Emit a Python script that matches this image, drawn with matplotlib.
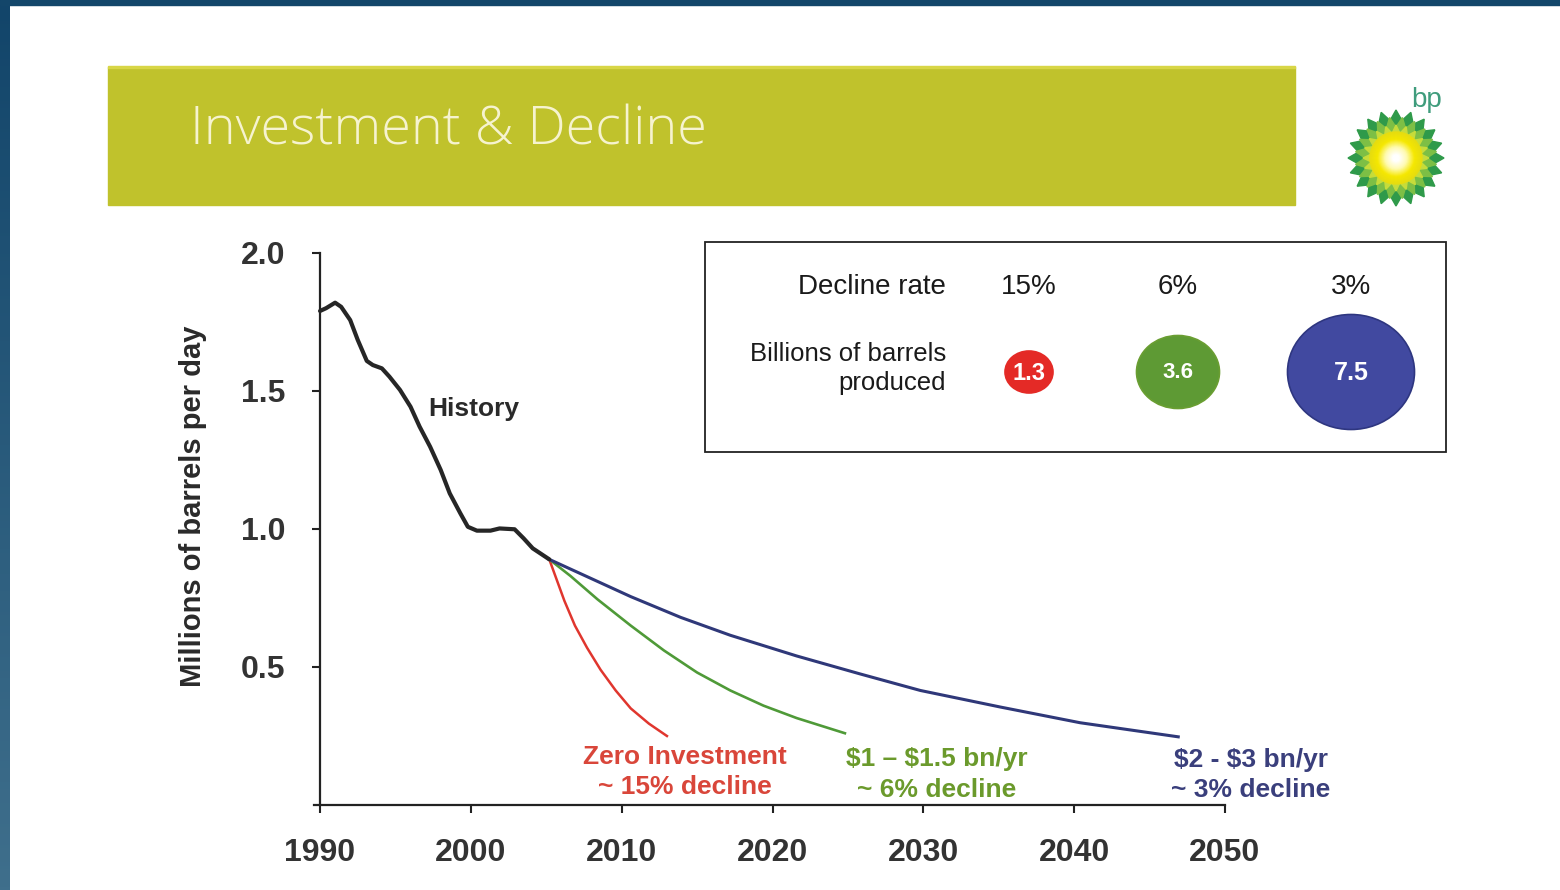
import numpy as np
import matplotlib
matplotlib.use('Agg')
import matplotlib.pyplot as plt
from matplotlib.patches import Rectangle, Ellipse, Polygon, Circle
import matplotlib.colors as mcolors

plt.rcParams['font.family'] = ['Liberation Sans', 'DejaVu Sans']

# Datos
hist_years = [1990, 1990.4, 1991.0, 1991.4, 1992.0, 1992.5, 1993.1, 1993.5, 1994.1, 1994.6,
              1995.3, 1996.0, 1996.6, 1997.3, 1998.0, 1998.6, 1999.3, 1999.8, 2000.4,
              2001.3, 2001.9, 2002.9, 2003.5, 2004.1, 2005.2]
hist_vals = [1.79, 1.80, 1.82, 1.805, 1.757, 1.685, 1.609, 1.594, 1.582, 1.552,
             1.504, 1.443, 1.371, 1.298, 1.214, 1.129, 1.057, 1.008, 0.994,
             0.994, 1.002, 0.999, 0.966, 0.930, 0.89]

red_years = [2005.2, 2005.6, 2006.2, 2006.9, 2007.7, 2008.6, 2009.6, 2010.6, 2011.8, 2013.0]
red_vals = [0.89, 0.83, 0.74, 0.65, 0.57, 0.49, 0.415, 0.35, 0.295, 0.25]

green_years = [2005.2, 2006.6, 2008.4, 2010.6, 2012.8, 2015.0, 2017.2, 2019.4, 2021.6, 2024.8]
green_vals = [0.89, 0.83, 0.745, 0.65, 0.56, 0.48, 0.415, 0.36, 0.315, 0.26]

blue_years = [2005.2, 2007.2, 2010.6, 2013.9, 2017.2, 2021.6, 2025.8, 2029.8, 2035.1, 2040.4, 2046.9]
blue_vals = [0.89, 0.84, 0.755, 0.68, 0.615, 0.54, 0.475, 0.415, 0.355, 0.298, 0.247]

x_ticks = [1990, 2000, 2010, 2020, 2030, 2040, 2050]
y_ticks = [0.5, 1.0, 1.5, 2.0]
y_ticklabels = ['0.5', '1.0', '1.5', '2.0']

decline_rates = ['15%', '6%', '3%']
barrels = ['1.3', '3.6', '7.5']

RED = '#e0362e'
GREEN = '#4f9a38'
BLUE = '#2f3879'

fig = plt.figure(figsize=(15.6, 8.9), dpi=100)
fig.patch.set_facecolor('white')

# Capa de decoracion en pixeles
deco = fig.add_axes([0, 0, 1, 1])
deco.axis('off')

# Bordes azules
grad = np.linspace(0, 1, 256).reshape(-1, 1)
cmap_b = mcolors.LinearSegmentedColormap.from_list('b', ['#12456a', '#3f6f8c'])
deco.imshow(grad, extent=[0, 10, 890, 0], cmap=cmap_b, aspect='auto', zorder=1)
deco.add_patch(Rectangle((0, 0), 1560, 5, color='#13466a', zorder=2))
deco.set_xlim(0, 1560)
deco.set_ylim(890, 0)

# Banda del titulo
deco.add_patch(Rectangle((108, 67), 1187, 138, color='#c0c22c', zorder=1))
deco.add_patch(Rectangle((108, 66), 1187, 1.5, color='#d8d646', zorder=1))
deco.text(190, 131, 'Investment & Decline', color='#f6f3cf', fontsize=39,
          family=['Open Sans', 'DejaVu Sans'], fontweight='light', ha='left', va='center')

# Logo bp
cx, cy = 1396, 158
def star(n, R, r, rot):
    ang = np.linspace(0, 2 * np.pi, 2 * n, endpoint=False) + rot
    rad = np.where(np.arange(2 * n) % 2 == 0, R, r)
    return np.column_stack([cx + rad * np.cos(ang), cy + rad * np.sin(ang)])
deco.add_patch(Polygon(star(20, 48, 38, 0), color='#2f9a4a', zorder=3))
deco.add_patch(Polygon(star(20, 41, 31, np.pi / 20), color='#7dbf45', zorder=3))
deco.add_patch(Polygon(star(20, 33, 25, 0), color='#c6dc3a', zorder=3))
cmap_s = mcolors.LinearSegmentedColormap.from_list('s', ['#ffffff', '#fffbb0', '#f6e800', '#e6dc10'])
for k, rr in enumerate(np.linspace(26, 3, 24)):
    deco.add_patch(Circle((cx, cy), rr, color=cmap_s(1 - k / 23), zorder=4))
deco.text(1427, 100, 'bp', color='#3f9c7c', fontsize=20, ha='center', va='center')

# Cuadro de leyenda
deco.add_patch(Rectangle((705, 242), 741, 210, facecolor='white', edgecolor='#222222', lw=1.3, zorder=2))
deco.text(946, 287, 'Decline rate', fontsize=20, ha='right', va='center', color='#1a1a1a')
deco.text(946, 354, 'Billions of barrels', fontsize=18.5, ha='right', va='center', color='#1a1a1a')
deco.text(946, 383, 'produced', fontsize=18.5, ha='right', va='center', color='#1a1a1a')
col_x = [1029, 1178, 1351]
circ_w = [48, 83, 127]
circ_h = [42, 73, 115]
circ_c = ['#e42a26', '#5e9a34', '#4149a0']
circ_e = ['#e42a26', '#6a9e32', '#2e3680']
circ_fs = [17, 16, 18]
for i in range(3):
    deco.text(col_x[i], 287, decline_rates[i], fontsize=20, ha='center', va='center', color='#1a1a1a')
    deco.add_patch(Ellipse((col_x[i], 372), circ_w[i], circ_h[i], facecolor=circ_c[i],
                           edgecolor=circ_e[i], lw=1.2, zorder=3))
    deco.text(col_x[i], 373, barrels[i], fontsize=circ_fs[i], fontweight='bold',
              color='white', ha='center', va='center', zorder=4)

deco.text(193, 506, 'Millions of barrels per day', rotation=90, fontsize=21, fontweight='bold',
          ha='center', va='center', color='#2a2a2a')

# Grafico principal
ax = fig.add_axes([314 / 1560, 85 / 890, 911 / 1560, 552 / 890])
ax.patch.set_alpha(0)
ax.plot(hist_years, hist_vals, color='#262626', lw=3, solid_joinstyle='round', solid_capstyle='round', zorder=5)
ax.plot(red_years, red_vals, color=RED, lw=1.8, solid_joinstyle='round', zorder=4)
ax.plot(green_years, green_vals, color=GREEN, lw=1.9, solid_joinstyle='round', zorder=4)
ax.plot(blue_years, blue_vals, color=BLUE, lw=2.2, solid_joinstyle='round', zorder=4)

ax.set_xlim(1989.6, 2050)
ax.set_ylim(0, 2.0)
ax.spines['left'].set_position(('data', 1990))
ax.spines['right'].set_visible(False)
ax.spines['top'].set_visible(False)
for s in ['left', 'bottom']:
    ax.spines[s].set_linewidth(1.6)
    ax.spines[s].set_color('#222222')

ax.set_xticks(x_ticks)
ax.set_yticks(y_ticks)
ax.set_yticklabels(y_ticklabels)
ax.tick_params(axis='both', width=1.5, length=6, color='#222222', labelcolor='#333333', labelsize=23)
ax.tick_params(axis='y', pad=19)
ax.tick_params(axis='x', pad=18)
for lab in ax.get_xticklabels() + ax.get_yticklabels():
    lab.set_fontweight('bold')

ax.text(1997.16, 1.435, 'History', fontsize=19, fontweight='bold', color='#2a2a2a', ha='left', va='center')
ax.text(2014.2, 0.174, 'Zero Investment', fontsize=19, fontweight='bold', color='#d9463a', ha='center', va='center')
ax.text(2014.2, 0.065, '~ 15% decline', fontsize=19, fontweight='bold', color='#d9463a', ha='center', va='center')
ax.text(2030.9, 0.167, '\\$1 – \\$1.5 bn/yr', fontsize=19, fontweight='bold', color='#6b9a2c', ha='center', va='center')
ax.text(2030.9, 0.056, '~ 6% decline', fontsize=19, fontweight='bold', color='#6b9a2c', ha='center', va='center')
ax.text(2051.7, 0.163, '\\$2 - \\$3 bn/yr', fontsize=19, fontweight='bold', color='#3a3f7c', ha='center', va='center')
ax.text(2051.7, 0.054, '~ 3% decline', fontsize=19, fontweight='bold', color='#3a3f7c', ha='center', va='center')

plt.savefig('out.png', dpi=100)
